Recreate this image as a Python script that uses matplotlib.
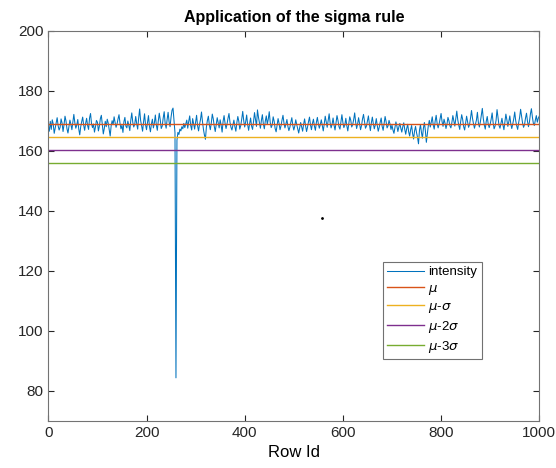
import matplotlib.pyplot as plt
import numpy as np

plt.rcParams['font.family'] = ['Liberation Sans', 'DejaVu Sans']
plt.rcParams['mathtext.fontset'] = 'dejavusans'

row_step = 2
intensity = [
    168.2, 166.5, 169.8, 167.1, 170.3, 168.9, 165.8, 167.6, 169.4, 171.0,
    168.3, 166.9, 167.8, 170.6, 169.2, 166.4, 168.7, 171.5, 169.9, 167.3,
    165.9, 168.1, 170.2, 168.8, 167.0, 169.6, 172.1, 169.3, 167.5, 168.6,
    170.4, 167.2, 165.3, 168.0, 169.7, 171.2, 168.5, 166.8, 169.1, 170.8,
    168.4, 167.1, 170.9, 172.4, 169.0, 167.7, 168.9, 166.2, 167.9, 170.1,
    169.5, 166.6, 168.2, 170.7, 171.8, 168.6, 165.6, 167.4, 169.8, 168.0,
    170.5, 169.2, 167.0, 164.9, 168.3, 170.0, 168.7, 171.3, 169.4, 167.8,
    168.9, 170.6, 172.0, 169.1, 167.3, 168.5, 166.1, 169.7, 171.1, 168.2,
    167.6, 169.9, 168.4, 166.7, 170.2, 172.6, 169.5, 167.9, 168.8, 171.4,
    169.0, 167.2, 170.8, 173.9, 170.1, 168.3, 166.5, 169.6, 172.3, 168.7,
    167.0, 169.4, 171.7, 168.1, 166.3, 168.9, 170.5, 167.6, 169.2, 171.9,
    168.6, 166.8, 169.9, 172.5, 170.3, 167.4, 168.2, 170.9, 173.0, 169.1,
    167.5, 170.4, 172.8, 169.6, 168.0, 171.2, 173.5, 174.2, 170.0, 166.0,
    84.3, 163.5, 166.1, 165.4, 167.2, 166.6, 168.0, 167.3, 169.1, 167.7,
    168.9, 170.2, 167.5, 169.8, 171.6, 168.4, 166.9, 170.7, 169.0, 167.2,
    169.5, 171.8, 168.3, 166.6, 168.8, 170.4, 172.9, 169.7, 167.1, 165.2,
    163.8, 167.9, 170.1, 171.5, 168.6, 167.0, 169.3, 172.2, 170.6, 168.1,
    166.4, 168.7, 171.0, 169.2, 167.6, 170.3, 168.5, 166.2, 169.8, 171.7,
    169.1, 167.4, 168.9, 170.8, 172.4, 169.5, 167.8, 166.9, 168.6, 170.2,
    168.0, 166.5, 169.3, 171.4, 169.8, 167.2, 168.4, 170.6, 173.1, 170.0,
    167.9, 169.6, 171.9, 168.7, 166.8, 169.0, 170.9, 168.2, 167.1, 169.7,
    172.7, 170.4, 168.1, 173.6, 171.2, 169.3, 167.5, 170.1, 172.0, 168.9,
    167.3, 169.9, 171.6, 168.8, 170.5, 173.0, 169.4, 167.7, 168.6, 171.3,
    169.8, 167.4, 166.3, 168.5, 170.7, 169.1, 167.0, 168.3, 170.2, 171.8,
    169.2, 167.6, 168.9, 170.4, 168.1, 166.7, 167.8, 169.5, 171.0, 168.4,
    166.9, 168.2, 170.3, 168.7, 167.3, 165.9, 167.6, 169.4, 168.0, 166.5,
    168.8, 170.6, 168.3, 166.4, 167.9, 169.7, 171.2, 168.6, 167.0, 169.1,
    170.5, 168.2, 166.8, 169.4, 171.1, 169.0, 167.5, 168.7, 170.3, 168.4,
    166.6, 168.9, 171.5, 169.6, 167.8, 170.0, 172.3, 169.3, 167.6, 168.8,
    170.9, 168.5, 166.9, 169.2, 171.7, 170.1, 168.0, 167.2, 169.6, 172.0,
    169.4, 167.7, 168.6, 170.8, 168.3, 166.6, 169.0, 171.3, 170.2, 167.9,
    168.7, 170.4, 172.6, 169.5, 167.4, 168.9, 171.0, 169.1, 167.0, 168.4,
    170.6, 172.1, 169.8, 167.5, 168.2, 170.0, 171.6, 168.8, 166.7, 169.3,
    171.2, 169.0, 167.3, 168.6, 170.7, 168.4, 166.5, 167.8, 169.5, 170.9,
    168.1, 166.8, 169.2, 171.4, 169.7, 167.6, 168.3, 170.1, 168.9, 167.1,
    168.5, 166.9, 165.8, 167.7, 169.6, 168.2, 166.4, 167.9, 169.1, 167.5,
    166.2, 168.0, 169.3, 167.1, 165.5, 167.4, 168.8, 166.3, 164.9, 167.0,
    168.4, 165.7, 163.9, 166.6, 168.1, 166.0, 164.5, 162.3, 166.8, 168.7,
    166.1, 164.2, 167.5, 169.4, 166.7, 162.8, 165.6, 168.3, 170.1, 167.9,
    169.5, 171.3, 168.6, 167.2, 169.9, 171.8, 169.0, 167.6, 168.9, 170.7,
    172.4, 169.7, 168.1, 170.5, 169.2, 167.4, 168.8, 171.1, 170.0, 168.3,
    167.6, 169.4, 171.7, 169.9, 168.2, 170.6, 173.2, 170.3, 168.5, 167.1,
    169.8, 172.0, 170.4, 168.0, 166.9, 169.1, 171.5, 169.6, 167.8, 168.7,
    170.9, 173.4, 170.8, 169.0, 167.5, 168.9, 170.2, 172.8, 169.3, 167.9,
    169.6, 171.9, 174.1, 170.7, 168.6, 167.2, 169.8, 171.4, 168.9, 167.7,
    168.8, 170.5, 172.6, 169.4, 167.3, 168.2, 170.1, 173.7, 171.0, 168.4,
    167.5, 169.2, 170.8, 168.6, 167.0, 169.5, 172.2, 170.3, 168.1, 169.7,
    171.6, 169.0, 167.4, 168.9, 170.6, 172.9, 170.0, 168.3, 167.1, 169.3,
    171.1, 173.8, 171.4, 169.2, 167.8, 168.7, 170.9, 172.5, 169.8, 168.0,
    169.6, 172.3, 174.0, 171.2, 169.1, 168.4, 170.2, 171.7, 169.5, 170.8,
    171.5,
]
mu = 168.8
sigma = 4.27
marker_pt = ([558], [137.5])

x = np.arange(len(intensity)) * row_step
xr = [0, 1000]

fig = plt.figure(figsize=(5.56, 4.68), dpi=100)
ax = fig.add_axes([0.0869, 0.101, 0.883, 0.8334])

ax.plot(x, intensity, color='#0072BD', lw=0.75, label='intensity')
ax.plot(xr, [mu, mu], color='#D95319', lw=1.0, label=r'$\mu$')
ax.plot(xr, [mu - sigma] * 2, color='#EDB120', lw=1.0, label=r'$\mu$-$\sigma$')
ax.plot(xr, [mu - 2 * sigma] * 2, color='#7E2F8E', lw=1.0, label=r'$\mu$-2$\sigma$')
ax.plot(xr, [mu - 3 * sigma] * 2, color='#77AC30', lw=1.0, label=r'$\mu$-3$\sigma$')
ax.plot(*marker_pt, 'k.', ms=2)

ax.set_xlim(0, 1000)
ax.set_ylim(70, 200)
ax.set_xticks(range(0, 1001, 200))
ax.set_yticks(range(80, 201, 20))
ax.tick_params(direction='in', top=True, right=True, labelsize=11, colors='0.15', length=4)
for s in ax.spines.values():
    s.set_color('0.45')
    s.set_linewidth(0.8)

ax.set_title('Application of the sigma rule', fontsize=11.5, fontweight='bold', pad=6)
ax.set_xlabel('Row Id', fontsize=12)

leg = ax.legend(loc='upper left', bbox_to_anchor=(0.668, 0.425), fontsize=9.5,
                frameon=True, fancybox=False, edgecolor='0.3', handlelength=2.8,
                labelspacing=0.3, borderpad=0.35, handletextpad=0.3)
leg.get_frame().set_linewidth(0.8)

fig.savefig('out.png', dpi=100)
